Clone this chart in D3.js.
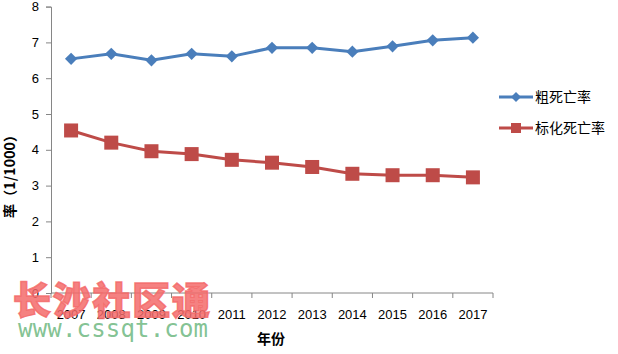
<!DOCTYPE html>
<html>
<head>
<meta charset="utf-8">
<script src="https://cdn.jsdelivr.net/npm/d3@7"></script>
<style>
  body { margin: 0; background: #fff; }
  svg text { font-family: "Liberation Sans", "Noto Sans CJK SC", sans-serif; }
</style>
</head>
<body>
<div id="chart"></div>
<script>
var years = ['2007', '2008', '2009', '2010', '2011', '2012', '2013', '2014', '2015', '2016', '2017'];
var crudeRate = [6.54, 6.68, 6.50, 6.68, 6.61, 6.85, 6.85, 6.74, 6.89, 7.06, 7.13];
var stdRate = [4.54, 4.20, 3.96, 3.88, 3.72, 3.64, 3.52, 3.33, 3.29, 3.29, 3.23];
var yTicks = [0, 1, 2, 3, 4, 5, 6, 7, 8];
var seriesNames = ['粗死亡率', '标化死亡率'];

var svg = d3.select('#chart')
  .append('svg')
  .attr('width', 618)
  .attr('height', 354);

var x = d3.scaleBand().domain(years).range([51, 493]);
var y = d3.scaleLinear().domain([0, 8]).range([293, 6.6]);

// y axis
var yAxis = svg.append('g')
  .attr('transform', 'translate(51,0)')
  .call(d3.axisLeft(y).tickValues(yTicks).tickSize(5).tickPadding(7));
yAxis.select('.domain').attr('stroke', '#868686');
yAxis.selectAll('.tick line').attr('stroke', '#868686');
yAxis.selectAll('text').style('font-size', '13px').attr('fill', '#000');

// x axis, ticks between categories
var xAxis = svg.append('g')
  .attr('transform', 'translate(0,293)');
xAxis.append('line')
  .attr('x1', 51).attr('x2', 493)
  .attr('stroke', '#868686');
xAxis.selectAll('.xt')
  .data(years.concat(['end']))
  .enter().append('line')
  .attr('x1', function (d, i) { return 51 + i * x.bandwidth(); })
  .attr('x2', function (d, i) { return 51 + i * x.bandwidth(); })
  .attr('y1', 0).attr('y2', 5)
  .attr('stroke', '#868686');
xAxis.selectAll('.xl')
  .data(years)
  .enter().append('text')
  .attr('x', function (d) { return x(d) + x.bandwidth() / 2; })
  .attr('y', 26)
  .attr('text-anchor', 'middle')
  .style('font-size', '13px')
  .text(function (d) { return d; });

// titles
svg.append('text')
  .attr('x', 271).attr('y', 344)
  .attr('text-anchor', 'middle')
  .style('font-size', '14px')
  .style('font-weight', 'bold')
  .style('font-family', '"Noto Sans CJK SC", sans-serif')
  .text('年份');

svg.append('text')
  .attr('transform', 'translate(15,173) rotate(-90)')
  .attr('text-anchor', 'middle')
  .attr('textLength', 90)
  .style('font-size', '14px')
  .style('font-weight', 'bold')
  .style('font-family', '"Noto Sans CJK SC", sans-serif')
  .text('率（1/1000）');

var cx = function (d, i) { return x(years[i]) + x.bandwidth() / 2; };
var line = d3.line().x(cx).y(function (d) { return y(d); });

// crude rate
svg.append('path')
  .datum(crudeRate)
  .attr('d', line)
  .attr('fill', 'none')
  .attr('stroke', '#4a7ebb')
  .attr('stroke-width', 3);
svg.selectAll('.dia')
  .data(crudeRate)
  .enter().append('path')
  .attr('d', d3.symbol().type(d3.symbolSquare).size(75))
  .attr('transform', function (d, i) { return 'translate(' + cx(d, i) + ',' + y(d) + ') rotate(45)'; })
  .attr('fill', '#4a7ebb');

// standardized rate
svg.append('path')
  .datum(stdRate)
  .attr('d', line)
  .attr('fill', 'none')
  .attr('stroke', '#be4b48')
  .attr('stroke-width', 3);
svg.selectAll('.sq')
  .data(stdRate)
  .enter().append('rect')
  .attr('x', function (d, i) { return cx(d, i) - 7; })
  .attr('y', function (d) { return y(d) - 7; })
  .attr('width', 14).attr('height', 14)
  .attr('fill', '#be4b48');

// legend
var legend = svg.append('g');
var legendColors = ['#4a7ebb', '#be4b48'];
seriesNames.forEach(function (name, i) {
  var ly = 97 + i * 31;
  legend.append('line')
    .attr('x1', 499).attr('x2', 533)
    .attr('y1', ly).attr('y2', ly)
    .attr('stroke', legendColors[i])
    .attr('stroke-width', 3);
  if (i === 0) {
    legend.append('path')
      .attr('d', d3.symbol().type(d3.symbolSquare).size(50))
      .attr('transform', 'translate(516,' + ly + ') rotate(45)')
      .attr('fill', legendColors[i]);
  } else {
    legend.append('rect')
      .attr('x', 511).attr('y', ly - 5)
      .attr('width', 10).attr('height', 10)
      .attr('fill', legendColors[i]);
  }
  legend.append('text')
    .attr('x', 535).attr('y', ly + 5)
    .style('font-size', '14px')
    .style('font-family', '"Noto Sans CJK SC", sans-serif')
    .text(name);
});

// watermark
svg.append('text')
  .attr('x', 13).attr('y', 314)
  .attr('textLength', 197)
  .style('font-size', '38px')
  .style('font-weight', '900')
  .style('font-family', '"Noto Sans CJK SC", sans-serif')
  .attr('fill', '#f46a6a')
  .attr('fill-opacity', 0.85)
  .attr('stroke', '#f46a6a')
  .attr('stroke-opacity', 0.85)
  .attr('stroke-width', 1.5)
  .text('长沙社区通');
svg.append('text')
  .attr('x', 18).attr('y', 337)
  .attr('textLength', 190)
  .style('font-size', '24px')
  .style('font-family', '"DejaVu Sans Mono", monospace')
  .attr('fill', '#74bb86')
  .attr('fill-opacity', 0.9)
  .text('www.cssqt.com');
</script>
</body>
</html>
